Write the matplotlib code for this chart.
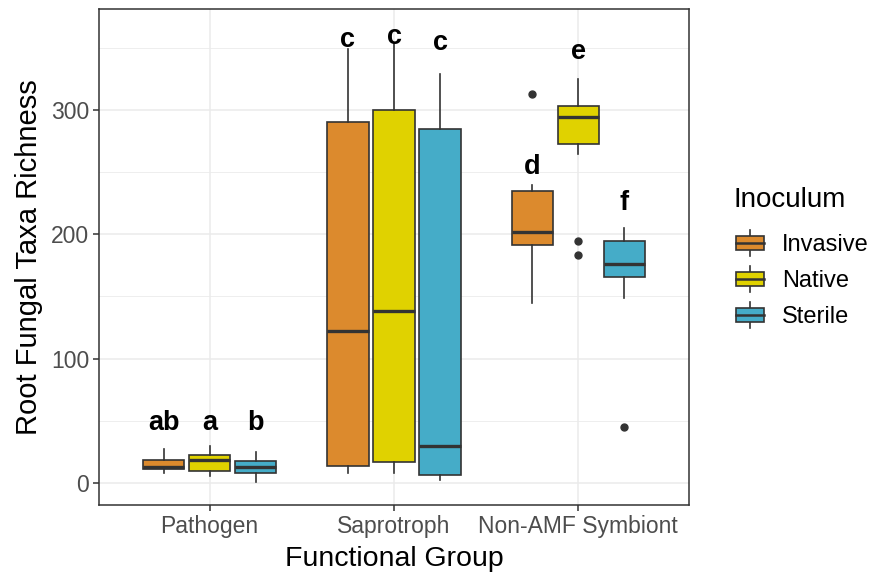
import matplotlib
matplotlib.use("Agg")
import matplotlib.pyplot as plt
from matplotlib.legend_handler import HandlerBase
from matplotlib.patches import Rectangle, Patch
from matplotlib.lines import Line2D

plt.rcParams['font.family'] = ['Liberation Sans', 'DejaVu Sans']

# Summary statistics per functional group (rows) and inoculum (columns)
groups = ["Pathogen", "Saprotroph", "Non-AMF Symbiont"]
inocula = ["Invasive", "Native", "Sterile"]
colors = ["#DC8A2D", "#E0D200", "#45ACC8"]

whis_lo = [[7.8, 6.0, 1.0], [7.8, 7.8, 2.4], [145.0, 264.6, 148.8]]
q1 = [[11.0, 10.0, 7.8], [13.9, 17.1, 6.4], [191.7, 272.3, 166.0]]
median = [[13.0, 18.5, 13.0], [122.0, 138.6, 30.0], [201.6, 294.6, 176.4]]
q3 = [[18.5, 22.5, 17.7], [290.6, 300.0, 284.7], [235.0, 303.5, 194.9]]
whis_hi = [[27.3, 30.0, 25.0], [349.0, 353.0, 329.0], [240.0, 324.7, 204.8]]
outliers = [[[], [], []], [[], [], []], [[312.6], [194.9, 183.1], [45.3]]]

# Tukey post-hoc letters and where they sit
letters = [["ab", "a", "b"], ["c", "c", "c"], ["d", "e", "f"]]
letter_y = [[48, 48, 48], [356, 359, 354], [254, 347, 225]]

GREY20 = "#333333"
GREY30 = "#4D4D4D"
GREY92 = "#EBEBEB"

fig = plt.figure(figsize=(8.69, 5.82), dpi=100)
ax = fig.add_axes([99 / 869, 1 - 505 / 582, 590 / 869, 496 / 582])

dodge = 0.25
box_w = 0.225

for gi in range(len(groups)):
    for ji in range(len(inocula)):
        pos = gi + 1 + (ji - 1) * dodge
        stats = [dict(med=median[gi][ji], q1=q1[gi][ji], q3=q3[gi][ji],
                      whislo=whis_lo[gi][ji], whishi=whis_hi[gi][ji],
                      fliers=outliers[gi][ji])]
        ax.bxp(stats, positions=[pos], widths=box_w, patch_artist=True,
               showcaps=False, manage_ticks=False,
               boxprops=dict(facecolor=colors[ji], edgecolor=GREY20, linewidth=1.2),
               medianprops=dict(color=GREY20, linewidth=2.4, solid_capstyle='butt'),
               whiskerprops=dict(color=GREY20, linewidth=1.2),
               flierprops=dict(marker='o', markerfacecolor=GREY20,
                               markeredgecolor=GREY20, markersize=5),
               zorder=3)
        ax.text(pos, letter_y[gi][ji], letters[gi][ji], ha='center', va='center',
                fontsize=19.5, fontweight='bold', color='black', zorder=4)

ax.set_xlim(0.4, 3.6)
ax.set_ylim(-17.7, 381.2)
ax.set_xticks([1, 2, 3])
ax.set_xticklabels(groups)
ax.set_yticks([0, 100, 200, 300])
ax.set_yticks([50, 150, 250, 350], minor=True)

ax.grid(True, which='major', color=GREY92, linewidth=1.1, zorder=0)
ax.grid(True, which='minor', axis='y', color=GREY92, linewidth=0.6, zorder=0)
ax.set_axisbelow(True)

for s in ax.spines.values():
    s.set_color(GREY20)
    s.set_linewidth(1.1)

ax.tick_params(axis='both', which='major', colors=GREY20, labelcolor=GREY30,
               labelsize=16.5, length=4, width=1.1, pad=3)
ax.tick_params(axis='y', which='minor', length=0)

ax.set_xlabel("Functional Group", fontsize=20.5, labelpad=6)
ax.set_ylabel("Root Fungal Taxa Richness", fontsize=21, labelpad=6)


class BoxKeyHandler(HandlerBase):
    # small box-and-whisker glyph for the legend keys
    def create_artists(self, legend, orig_handle, xdescent, ydescent,
                       width, height, fontsize, trans):
        x0, y0 = -xdescent, -ydescent
        cx = x0 + width / 2
        box = Rectangle((x0, y0 + 0.22 * height), width, 0.56 * height,
                        facecolor=orig_handle.get_facecolor(), edgecolor=GREY20,
                        linewidth=1.2, transform=trans)
        med = Line2D([x0, x0 + width], [y0 + 0.5 * height] * 2, color=GREY20,
                     linewidth=1.8, transform=trans)
        lo = Line2D([cx, cx], [y0 - 0.04 * height, y0 + 0.22 * height],
                    color=GREY20, linewidth=1.2, transform=trans)
        hi = Line2D([cx, cx], [y0 + 0.78 * height, y0 + 1.04 * height],
                    color=GREY20, linewidth=1.2, transform=trans)
        return [lo, hi, box, med]


# legend title and keys placed separately so the spacing can be set freely
fig.text(734 / 869, 1 - 200 / 582, "Inoculum", fontsize=20, va='center', ha='left')
handles = [Patch(facecolor=c) for c in colors]
fig.legend(handles, inocula, handler_map={Patch: BoxKeyHandler()},
           loc='upper left', bbox_to_anchor=(736 / 869, 1 - 231 / 582),
           frameon=False, fontsize=17, handlelength=1.17, handleheight=1.22,
           handletextpad=0.78, labelspacing=0.45, borderaxespad=0,
           borderpad=0)

fig.savefig("out.png", dpi=100)
